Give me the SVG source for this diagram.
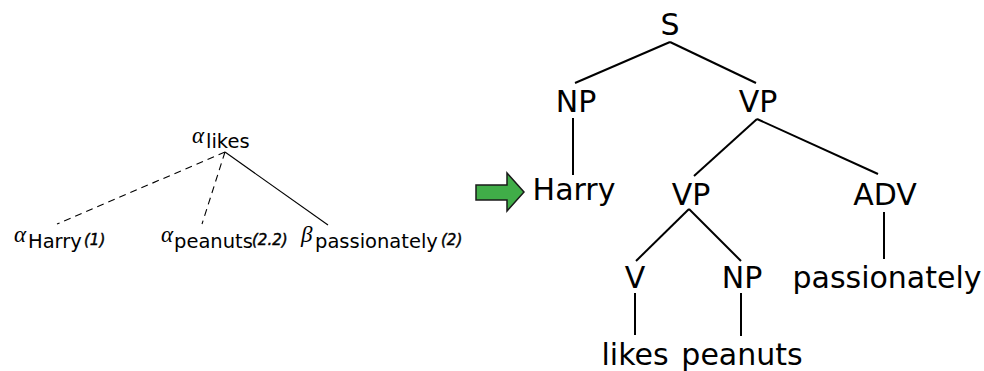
<svg xmlns="http://www.w3.org/2000/svg" width="984" height="371" viewBox="0 0 984 371">
  <style>
    .greek { font-family: "Liberation Serif", "DejaVu Serif", serif; font-style: italic; font-size: 23px; fill: #000; }
    .word { font-family: "DejaVu Sans", sans-serif; font-size: 19.5px; fill: #000; }
    .addr { font-family: "DejaVu Sans", sans-serif; font-size: 15px; font-style: italic; fill: #000; stroke: #000; stroke-width: 0.45; }
    .cat { font-family: "DejaVu Sans", sans-serif; font-size: 30px; fill: #000; text-anchor: middle; }
    .thin { stroke: #000; stroke-width: 1.1; fill: none; }
    .dash { stroke-dasharray: 7 5; }
    .thick { stroke: #000; stroke-width: 2; fill: none; }
  </style>
  <rect width="984" height="371" fill="#fff"/>

  <!-- derivation tree -->
  <g id="derivation-edges">
    <line class="thin dash" x1="225" y1="152" x2="57" y2="224"/>
    <line class="thin dash" x1="225" y1="152" x2="202" y2="224"/>
    <line class="thin" x1="225" y1="152" x2="328" y2="225"/>
  </g>
  <g id="alpha-likes">
    <text class="greek" x="192" y="143">α</text>
    <text class="word" x="206" y="148">likes</text>
  </g>
  <g id="alpha-harry">
    <text class="greek" x="14" y="242">α</text>
    <text class="word" x="28" y="248">Harry</text>
    <text class="addr" x="84" y="245">(1)</text>
  </g>
  <g id="alpha-peanuts">
    <text class="greek" x="161" y="242">α</text>
    <text class="word" x="174" y="248">peanuts</text>
    <text class="addr" x="252" y="245">(2.2)</text>
  </g>
  <g id="beta-passionately">
    <text class="greek" x="301" y="242">β</text>
    <text class="word" x="315" y="248">passionately</text>
    <text class="addr" x="441" y="245">(2)</text>
  </g>

  <!-- transition arrow -->
  <g id="arrow">
    <path d="M476,185 L507,185 L507,173 L524,192 L507,211 L507,200 L476,200 Z" fill="#40ad48" stroke="#1a1a1a" stroke-width="1.5" stroke-linejoin="miter"/>
  </g>

  <!-- derived tree -->
  <g id="tree-edges">
    <line class="thick" x1="670" y1="42" x2="575" y2="83"/>
    <line class="thick" x1="670" y1="42" x2="756" y2="83"/>
    <line class="thick" x1="573" y1="118" x2="573" y2="175"/>
    <line class="thick" x1="757" y1="119" x2="694" y2="176"/>
    <line class="thick" x1="757" y1="119" x2="878" y2="174"/>
    <line class="thick" x1="689" y1="209" x2="636" y2="261"/>
    <line class="thick" x1="689" y1="209" x2="741" y2="261"/>
    <line class="thick" x1="884" y1="212" x2="884" y2="259"/>
    <line class="thick" x1="635" y1="293" x2="635" y2="335"/>
    <line class="thick" x1="741" y1="293" x2="741" y2="336"/>
  </g>
  <g id="node-s"><text class="cat" x="670" y="35">S</text></g>
  <g id="node-np1"><text class="cat" x="576" y="112">NP</text></g>
  <g id="node-vp1"><text class="cat" x="758" y="112">VP</text></g>
  <g id="node-harry"><text class="cat" x="574" y="200">Harry</text></g>
  <g id="node-vp2"><text class="cat" x="691" y="205">VP</text></g>
  <g id="node-adv"><text class="cat" x="885" y="205">ADV</text></g>
  <g id="node-v"><text class="cat" x="635" y="288">V</text></g>
  <g id="node-np2"><text class="cat" x="742" y="288">NP</text></g>
  <g id="node-passionately"><text class="cat" x="887" y="288">passionately</text></g>
  <g id="node-likes"><text class="cat" x="635" y="365">likes</text></g>
  <g id="node-peanuts"><text class="cat" x="742" y="365">peanuts</text></g>
</svg>
